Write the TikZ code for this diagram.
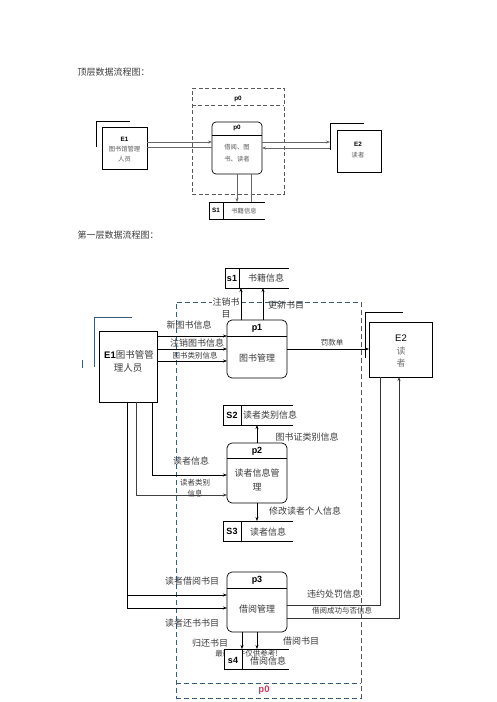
\documentclass[tikz,border=0pt]{standalone}
\usepackage{fontspec}
\setmainfont{Liberation Serif}
\newfontfamily\cjk{Noto Sans CJK SC}
\newfontfamily\arial{Liberation Sans}
\usetikzlibrary{arrows.meta,calc}
\definecolor{dashblue}{RGB}{60,90,120}
\definecolor{txtgray}{RGB}{60,60,60}
\definecolor{ptred}{RGB}{205,60,95}
\begin{document}
\begin{tikzpicture}[x=1pt,y=-1pt,
  ln/.style={draw=black,line width=0.6pt},
  gln/.style={draw=black!60,line width=0.6pt},
  arr/.style={-{Stealth[length=4pt,width=3pt]}},
  box/.style={draw=black,line width=0.7pt,fill=white,inner sep=0pt,outer sep=0pt},
  procbox/.style={draw=black,line width=0.7pt,rounded corners=5pt,fill=white,inner sep=0pt,outer sep=0pt,minimum width=60pt,minimum height=58pt},
  ghost/.style={inner sep=0pt,outer sep=0pt},
  lbl/.style={font=\cjk\fontsize{9}{10}\selectfont,text=txtgray,inner sep=0pt},
  slbl/.style={font=\cjk\fontsize{7.5}{9}\selectfont,text=txtgray,inner sep=0pt},
  tlbl/.style={font=\cjk\fontsize{6.3}{7}\selectfont,text=black!65,inner sep=0pt},
  idl/.style={font=\arial\bfseries\fontsize{9}{10}\selectfont,inner sep=0pt},
  tidl/.style={font=\arial\bfseries\fontsize{6.3}{7}\selectfont,inner sep=0pt},
]
\useasboundingbox (0,0) rectangle (496,702);
\fill[white] (0,0) rectangle (496,702);

% ================= top level =================
\node[anchor=west,font=\cjk\fontsize{9}{10}\selectfont,text=txtgray] (t1) at (74,72) {顶层数据流程图：};

% dashed p0 frame
\node[draw=black!65,dash pattern=on 4pt off 2.5pt,line width=0.6pt,minimum width=92pt,minimum height=106pt,inner sep=0pt] (P0t) at (238,141) {};
\draw[draw=black!65,dash pattern=on 4pt off 2.5pt,line width=0.6pt] (P0t.west |- 0,105) -- (P0t.east |- 0,105);
\node[tidl] (P0tl) at (238,98.5) {p0};

% process p0
\node[procbox,minimum width=50pt,minimum height=52pt,rounded corners=4pt] (p0t) at (237,148) {};
\draw[line width=0.6pt] ($(p0t.north west)+(0,13)$) -- ($(p0t.north east)+(0,13)$);
\node[tidl] (p0tl) at (237,128) {p0};
\node[tlbl] (p0tx1) at (237,147) {借阅、图};
\node[tlbl] (p0tx2) at (237,159) {书、读者};

% E1 top
\node[box,minimum width=45pt,minimum height=42pt] (E1t) at (124.5,148) {};
\draw[line width=0.7pt] (96,147) -- (96,121) -- (130,121);
\node[tidl] (E1tl) at (124.5,139) {E1};
\node[tlbl] (E1tx1) at (124.5,149) {图书馆管理};
\node[tlbl] (E1tx2) at (124.5,159) {人员};

% E2 top
\node[box,minimum width=44pt,minimum height=42pt] (E2t) at (359,151) {};
\draw[line width=0.7pt] (330,150) -- (330,123) -- (364,123);
\coordinate (E2tin) at (330,142);
\node[tidl] (E2tl) at (358,144) {E2};
\node[tlbl] (E2tx) at (358,155) {读者};

% store s1 top
\node[ghost,minimum width=56pt,minimum height=17pt] (s1t) at (237,210.5) {};
\draw[line width=0.7pt] (s1t.north east) -- (s1t.north west) -- (s1t.south west) -- (s1t.south east);
\draw[line width=0.7pt] (s1t.north west -| 223,0) -- (s1t.south west -| 223,0);
\node[tidl] (s1tl) at (216,210.5) {S1};
\node[tlbl] (s1tx) at (244,211) {书籍信息};

% top connectors
\draw[gln,arr] (E1t.east |- 0,142) -- (p0t.west |- 0,142);
\draw[gln] (p0t.west |- 0,147) -- (E1t.east |- 0,147);
\draw[gln,arr] (p0t.east |- 0,142) -- (E2tin);
\draw[gln,arr] (E2tin |- 0,148) -- (p0t.east |- 0,148);
\draw[gln,arr] (p0t.south -| 237,0) -- (s1t.north -| 237,0);
\draw[gln] (s1t.north -| 251,0) -- (p0t.south -| 251,0);

% ================= first level =================
\node[anchor=west,font=\cjk\fontsize{9}{10}\selectfont,text=txtgray] (t2) at (74,235) {第一层数据流程图：};

% big dashed frame
\node[draw=dashblue,dash pattern=on 5pt off 3pt,line width=0.8pt,minimum width=185pt,minimum height=396pt,inner sep=0pt] (P0) at (268.5,500) {};
\draw[draw=dashblue,dash pattern=on 5pt off 3pt,line width=0.8pt] (P0.west |- 0,683) -- (P0.east |- 0,683);
\node[font=\arial\bfseries\fontsize{9.5}{10}\selectfont,text=ptred,inner sep=0pt] (P0l) at (264,690) {p0};

% E1
\node[box,minimum width=58pt,minimum height=71pt] (E1) at (128,366.5) {};
\draw[draw=dashblue,line width=0.8pt] (94,367) -- (94,317) -- (132,317);
\draw[draw=dashblue,line width=0.8pt] (82,360) -- (82,368);
\node[font=\cjk\fontsize{9.5}{11}\selectfont,text=txtgray,inner sep=0pt] (E1x1) at (129,355) {{\arial\bfseries\color{black}E1}图书管管};
\node[font=\cjk\fontsize{9.5}{11}\selectfont,text=txtgray,inner sep=0pt] (E1x2) at (128,368) {理人员};

% E2
\node[box,minimum width=63pt,minimum height=55pt] (E2) at (400.5,349.5) {};
\draw[line width=0.8pt] (365,358) -- (365,312) -- (403,312);
\coordinate (E2in) at (369,349);
\node[font=\arial\fontsize{9.5}{10}\selectfont,inner sep=0pt] (E2l) at (401,338.5) {E2};
\node[lbl,text=black!55] (E2x1) at (401,351) {读};
\node[lbl,text=black!55] (E2x2) at (401,363) {者};

% processes
\node[procbox] (p1) at (257,349) {};
\draw[line width=0.7pt] ($(p1.north west)+(0,16)$) -- ($(p1.north east)+(0,16)$);
\node[idl] (p1l) at (257,328) {p1};
\node[lbl] (p1x) at (257,358) {图书管理};

\node[procbox,minimum height=60pt] (p2) at (257,473) {};
\draw[line width=0.7pt] ($(p2.north west)+(0,15)$) -- ($(p2.north east)+(0,15)$);
\node[idl] (p2l) at (257,451) {p2};
\node[lbl] (p2x1) at (257,473) {读者信息管};
\node[lbl] (p2x2) at (257,487) {理};

\node[procbox,minimum height=60pt] (p3) at (257,602) {};
\draw[line width=0.7pt] ($(p3.north west)+(0,16)$) -- ($(p3.north east)+(0,16)$);
\node[idl] (p3l) at (257,580) {p3};
\node[lbl] (p3x) at (257,609) {借阅管理};

% stores
\node[ghost,minimum width=64pt,minimum height=20pt] (s1) at (257,278) {};
\draw[line width=0.8pt] (s1.north east) -- (s1.north west) -- (s1.south west) -- (s1.south east);
\draw[line width=0.8pt] (s1.north -| 239,0) -- (s1.south -| 239,0);
\node[idl] (s1l) at (232,278) {s1};
\node[lbl] (s1x) at (266,278.5) {书籍信息};

\node[ghost,minimum width=70pt,minimum height=20pt] (S2) at (258,415) {};
\draw[line width=0.8pt] (S2.north east) -- (S2.north west) -- (S2.south west) -- (S2.south east);
\draw[line width=0.8pt] (S2.north -| 241,0) -- (S2.south -| 241,0);
\node[idl] (S2l) at (232,415) {S2};
\node[lbl] (S2x) at (270,415.5) {读者类别信息};

\node[ghost,minimum width=70pt,minimum height=20pt] (S3) at (258,531) {};
\draw[line width=0.8pt] (S3.north east) -- (S3.north west) -- (S3.south west) -- (S3.south east);
\draw[line width=0.8pt] (S3.north -| 241,0) -- (S3.south -| 241,0);
\node[idl] (S3l) at (232,531) {S3};
\node[lbl] (S3x) at (268,532) {读者信息};

% watermark under s4
\node[font=\cjk\fontsize{7.5}{8}\selectfont,text=txtgray,inner sep=0pt] (wm) at (246.5,653.5) {最新文件仅供参考!};
\node[ghost,minimum width=65pt,minimum height=20pt] (s4) at (256.5,659) {};
\fill[white] (s4.north west) rectangle (s4.south -| 242,0);
\draw[line width=0.8pt] (s4.north east) -- (s4.north west) -- (s4.south west) -- (s4.south east);
\draw[line width=0.8pt] (s4.north -| 242,0) -- (s4.south -| 242,0);
\node[idl] (s4l) at (233,660) {s4};
\node[lbl] (s4x) at (268,661) {借阅信息};

% ---- connectors ----
% E1 -> p1
\draw[ln,arr] (E1.east |- 0,336) -- (p1.west |- 0,336);
\draw[ln,arr] (E1.east |- 0,349) -- (p1.west |- 0,349);
\draw[ln,arr] (E1.east |- 0,361) -- (p1.west |- 0,361);
\node[lbl] (la1) at (189,325) {新图书信息};
\node[lbl] (la2) at (197,343) {注销图书信息};
\node[slbl] (la3) at (195,356) {图书类别信息};

% p1 -> s1
\draw[ln,arr] (p1.north -| 241,0) -- (s1.south -| 241,0);
\draw[ln,arr] (p1.north -| 263,0) -- (s1.south -| 263,0);
\node[lbl,align=center,font=\cjk\fontsize{9}{12}\selectfont,fill=white,inner sep=0.5pt] (la4) at (226,308) {注销书\\目};
\node[lbl] (la5) at (286,305) {更新书目};

% p1 -> E2
\draw[ln,arr] (p1.east |- E2in) -- (E2in);
\node[slbl] (la6) at (332,343) {罚款单};

% p2 <-> stores
\draw[ln,arr] (p2.north) -- (S2.south -| p2.north);
\draw[ln,arr] (p2.south) -- (S3.north -| p2.south);
\node[lbl] (la7) at (307,437) {图书证类别信息};
\node[lbl] (la8) at (305,511) {修改读者个人信息};

% E1 -> p2
\draw[ln,arr] (E1.south -| 152,0) |- (p2.west |- 0,475);
\draw[ln,line width=0.9pt,draw=black!75,arr] (E1.south -| 136,0) |- (p2.west |- 0,495);
\node[lbl] (la9) at (191,461) {读者信息};
\node[slbl,align=center,font=\cjk\fontsize{7.5}{11}\selectfont] (la10) at (195,488.5) {读者类别\\信息};

% E1 -> p3
\coordinate (j1) at (127,595);
\draw[ln,arr] (E1.south -| j1) |- (p3.west |- 0,608);
\draw[ln,arr] (j1) -- (p3.west |- j1);
\node[lbl] (la11) at (192,581) {读者借阅书目};
\node[lbl] (la12) at (192,623) {读者还书书目};

% p3 -> E2
\draw[ln,draw=black!80] (p3.east |- 0,605) -| (E2.south -| 380,0);
\draw[ln,draw=black!80,arr] (p3.east |- 0,618) -| (E2.south -| 399,0);
\node[lbl] (la13) at (334,594) {违约处罚信息};
\node[slbl] (la14) at (342,611) {借阅成功与否信息};

% p3 -> s4
\draw[ln,arr] (p3.south -| 242,0) -- (s4.north -| 242,0);
\draw[ln,arr] (p3.south -| 257,0) -- (s4.north -| 257,0);
\node[lbl] (la15) at (210,643) {归还书目};
\node[lbl] (la16) at (301,641) {借阅书目};
\end{tikzpicture}
\end{document}
